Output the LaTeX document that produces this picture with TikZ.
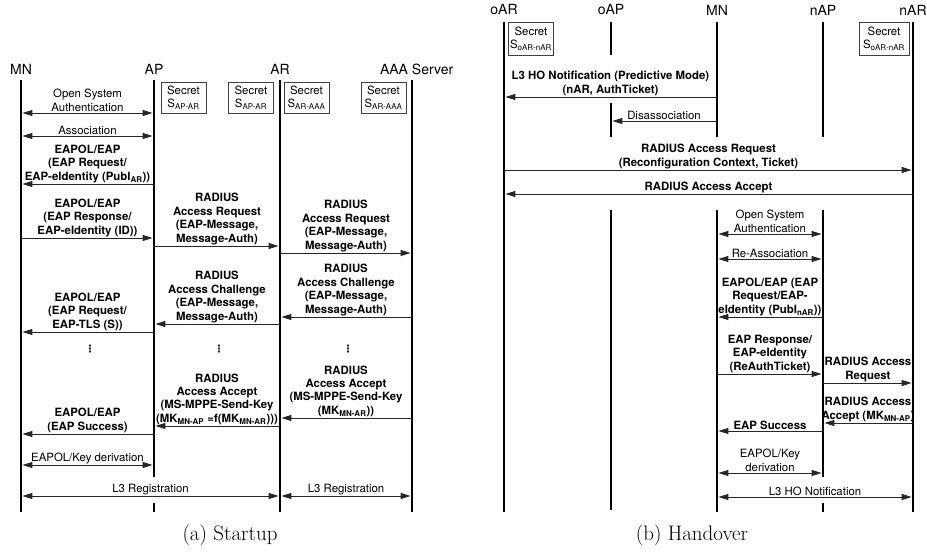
\documentclass[tikz,border=0pt]{standalone}
\usepackage{fontspec}
\newfontfamily\hv{TeX Gyre Heros}
\newfontfamily\dv{DejaVu Sans}
\usetikzlibrary{arrows.meta}
\tikzset{
  life/.style={line width=2.7pt},
  msg/.style={line width=0.9pt,black!85,shorten >=1.4pt,-{Triangle[length=10pt,width=6pt]}},
  bimsg/.style={msg,shorten <=1.4pt,{Triangle[length=10pt,width=6pt]}-{Triangle[length=10pt,width=6pt]}},
  lbl/.style={text=black,font=\hv\fontsize{11.4}{13.4}\selectfont,align=center,inner sep=1pt,anchor=south},
  blbl/.style={lbl,font=\hv\bfseries\fontsize{11.4}{13.4}\selectfont},
  head/.style={font=\hv\fontsize{14}{16}\selectfont},
  secret/.style={draw=black!75,line width=0.8pt,minimum width=45pt,minimum height=31pt,inner sep=1pt,align=center,font=\hv\fontsize{11.4}{13}\selectfont},
  dots/.style={font=\dv\bfseries\fontsize{10}{10}\selectfont},
  capt/.style={font=\fontsize{21}{25}\selectfont}
}
\begin{document}
\begin{tikzpicture}[x=1pt,y=-1pt]
  \useasboundingbox (0,0) rectangle (927,556);
  % (a) startup
  \node[head] (mn) at (21,69) {MN};
  \node[head] (ap) at (154,69) {AP};
  \node[head] (ar) at (280,69) {AR};
  \node[head] (aaa) at (412,69) {\phantom{A}AAA Server};
  \coordinate (top) at (0,80);
  \coordinate (bot) at (0,512);
  \coordinate (gapa) at (0,477);
  \coordinate (gapb) at (0,503);
  \draw[life] (mn |- top) -- (mn |- bot);
  \draw[life] (ap |- top) -- (ap |- gapa) (ap |- gapb) -- (ap |- bot);
  \draw[life] (ar |- top) -- (ar |- bot);
  \draw[life] (aaa |- top) -- (aaa |- bot);
  \node[secret] (s1) at (183.5,97.5) {Secret\\S\textsubscript{AP-AR}};
  \node[secret] (s2) at (251,97.5) {Secret\\S\textsubscript{AP-AR}};
  \node[secret] (s3) at (306.5,97.5) {Secret\\S\textsubscript{AR-AAA}};
  \node[secret] (s4) at (383.5,97.5) {Secret\\S\textsubscript{AR-AAA}};
  \coordinate (r1) at (0,113);
  \coordinate (r2) at (0,136);
  \coordinate (r3) at (0,184);
  \coordinate (r4) at (0,238);
  \coordinate (r5) at (0,246);
  \coordinate (r6) at (0,253);
  \coordinate (r7) at (0,317);
  \coordinate (r8) at (0,324);
  \coordinate (r9) at (0,332);
  \coordinate (r10) at (0,418);
  \coordinate (r11) at (0,426);
  \coordinate (r12) at (0,434);
  \coordinate (r13) at (0,465);
  \coordinate (r14) at (0,496);
  \draw[bimsg] (mn |- r1) -- node[lbl]{Open System\\Authentication} (ap |- r1);
  \draw[bimsg] (mn |- r2) -- node[lbl]{Association} (ap |- r2);
  \draw[msg] (ap |- r3) -- node[blbl]{EAPOL/EAP\\(EAP Request/\\EAP-eIdentity (PubI\textsubscript{AR}))} (mn |- r3);
  \draw[msg] (mn |- r4) -- node[blbl]{EAPOL/EAP\\(EAP Response/\\EAP-eIdentity (ID))} (ap |- r4);
  \draw[msg] (ap |- r5) -- node[blbl]{RADIUS\\Access Request\\(EAP-Message,\\Message-Auth)} (ar |- r5);
  \draw[msg] (ar |- r6) -- node[blbl]{RADIUS\\Access Request\\(EAP-Message,\\Message-Auth)} (aaa |- r6);
  \draw[msg] (aaa |- r7) -- node[blbl]{RADIUS\\Access Challenge\\(EAP-Message,\\Message-Auth)} (ar |- r7);
  \draw[msg] (ar |- r8) -- node[blbl]{RADIUS\\Access Challenge\\(EAP-Message,\\Message-Auth)} (ap |- r8);
  \draw[msg] (ap |- r9) -- node[blbl]{EAPOL/EAP\\(EAP Request/\\EAP-TLS (S))} (mn |- r9);
  \node[dots] (d1) at (90,349) {⋮};
  \node[dots] (d2) at (219,349) {⋮};
  \node[dots] (d3) at (348,349) {⋮};
  \draw[msg] (aaa |- r10) -- node[blbl]{RADIUS\\Access Accept\\(MS-MPPE-Send-Key\\(MK\textsubscript{MN-AR}))} (ar |- r10);
  \draw[msg] (ar |- r11) -- node[blbl]{RADIUS\\Access Accept\\(MS-MPPE-Send-Key\\(MK\textsubscript{MN-AP} =f(MK\textsubscript{MN-AR})))} (ap |- r11);
  \draw[msg] (ap |- r12) -- node[blbl]{EAPOL/EAP\\(EAP Success)} (mn |- r12);
  \draw[bimsg] (mn |- r13) -- node[lbl]{EAPOL/Key derivation} (ap |- r13);
  \draw[bimsg] (mn |- r14) -- node[lbl]{L3 Registration} (ar |- r14);
  \draw[bimsg] (ar |- r14) -- node[lbl]{L3 Registration} (aaa |- r14);
  \node[capt] (ca) at (230,535) {(a) Startup};
  % (b) handover
  \node[head] (oar) at (504,10) {oAR};
  \node[head] (oap) at (611,10) {oAP};
  \node[head] (mn2) at (717,10) {MN};
  \node[head] (nap) at (823,10) {nAP};
  \node[head] (nar) at (913,10) {nAR};
  \coordinate (btop) at (0,22);
  \coordinate (c55) at (0,55);
  \coordinate (c103) at (0,103);
  \coordinate (c137) at (0,137);
  \coordinate (c210) at (0,210);
  \coordinate (c510) at (0,510);
  \draw[life] (oar |- btop) -- (oar |- bot);
  \draw[life] (oap |- btop) -- (oap |- c55) (oap |- c103) -- (oap |- c137) (oap |- c210) -- (oap |- c510);
  \draw[life] (mn2 |- btop) -- (mn2 |- c137) (mn2 |- c210) -- (mn2 |- bot);
  \draw[life] (nap |- btop) -- (nap |- c137) (nap |- c210) -- (nap |- gapa) (nap |- gapb) -- (nap |- bot);
  \draw[life] (nar |- btop) -- (nar |- bot);
  \node[secret,minimum height=33pt] (s5) at (531,38.5) {Secret\\S\textsubscript{oAR-nAR}};
  \node[secret,minimum height=33pt,minimum width=50pt] (s6) at (884,38.5) {Secret\\S\textsubscript{oAR-nAR}};
  \coordinate (b1) at (0,97);
  \coordinate (b2) at (0,121);
  \coordinate (b3) at (0,170);
  \coordinate (b4) at (0,194);
  \coordinate (b5) at (0,234);
  \coordinate (b6) at (0,259);
  \coordinate (b7) at (0,317);
  \coordinate (b8) at (0,374);
  \coordinate (b9) at (0,383);
  \coordinate (b10) at (0,423);
  \coordinate (b11) at (0,431);
  \coordinate (b12) at (0,473);
  \coordinate (b13) at (0,497);
  \draw[msg] (mn2 |- b1) -- node[blbl]{L3 HO Notification (Predictive Mode)\\(nAR, AuthTicket)} (oar |- b1);
  \draw[msg] (mn2 |- b2) -- node[lbl]{Disassociation} (oap |- b2);
  \draw[msg] (oar |- b3) -- node[blbl]{RADIUS Access Request\\(Reconfiguration Context, Ticket)} (nar |- b3);
  \draw[msg] (nar |- b4) -- node[blbl]{RADIUS Access Accept} (oar |- b4);
  \draw[bimsg] (mn2 |- b5) -- node[lbl]{Open System\\Authentication} (nap |- b5);
  \draw[bimsg] (mn2 |- b6) -- node[lbl]{Re-Association} (nap |- b6);
  \draw[msg] (nap |- b7) -- node[blbl]{EAPOL/EAP (EAP\\Request/EAP-\\eIdentity (PubI\textsubscript{nAR}))} (mn2 |- b7);
  \draw[msg] (mn2 |- b8) -- node[blbl]{EAP Response/\\EAP-eIdentity\\(ReAuthTicket)} (nap |- b8);
  \draw[msg] (nap |- b9) -- node[blbl]{RADIUS Access\\Request} (nar |- b9);
  \draw[msg] (nar |- b10) -- node[blbl]{RADIUS Access\\Accept (MK\textsubscript{MN-AP})} (nap |- b10);
  \draw[msg] (nap |- b11) -- node[blbl]{EAP Success} (mn2 |- b11);
  \draw[bimsg] (mn2 |- b12) -- node[lbl]{EAPOL/Key\\derivation} (nap |- b12);
  \draw[bimsg] (mn2 |- b13) -- node[lbl]{L3 HO Notification} (nar |- b13);
  \node[capt] (cb) at (692,535) {(b) Handover};
\end{tikzpicture}
\end{document}
